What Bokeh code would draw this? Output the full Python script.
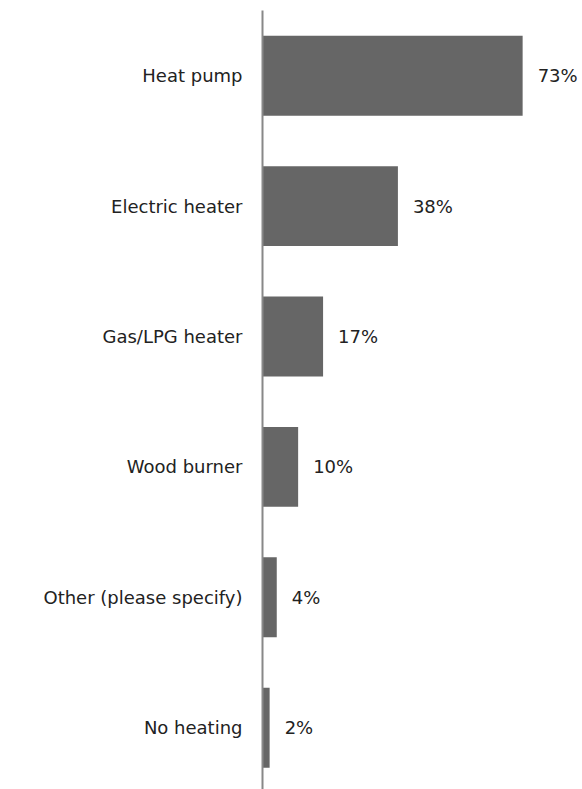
from bokeh.plotting import figure
from bokeh.models import Range1d, FixedTicker, ColumnDataSource
from bokeh.core.properties import value
from bokeh.embed import file_html
from bokeh.resources import INLINE

categories = ["Heat pump", "Electric heater", "Gas/LPG heater", "Wood burner",
              "Other (please specify)", "No heating"]
percentages = [73, 38, 17, 10, 4, 2]
value_labels = ["73%", "38%", "17%", "10%", "4%", "2%"]

positions = list(range(len(categories)))
src = ColumnDataSource(dict(y=positions, v=percentages, lab=value_labels))

FONT = "DejaVu Sans"

p = figure(width=582, height=789, output_backend="svg", toolbar_location=None,
           x_range=Range1d(0, 89.8), y_range=Range1d(5.474, -0.5),
           min_border_left=262, min_border_right=0, min_border_top=10,
           min_border_bottom=0)
p.hbar(y="y", right="v", left=0, height=0.613, source=src,
       fill_color="#666666", line_color=None)
p.text(x="v", y="y", text="lab", source=src, x_offset=15,
       text_baseline="middle", text_align="left",
       text_font=value(FONT), text_font_size="18px", text_color="#222222")

p.xaxis.visible = False
p.xgrid.visible = False
p.ygrid.visible = False
p.outline_line_color = None

ya = p.yaxis[0]
ya.ticker = FixedTicker(ticks=positions)
ya.major_label_overrides = {i: c for i, c in enumerate(categories)}
ya.major_tick_out = 0
ya.major_tick_in = 0
ya.minor_tick_out = 0
ya.minor_tick_in = 0
ya.major_label_standoff = 20
ya.major_label_text_font = FONT
ya.major_label_text_font_size = "18px"
ya.major_label_text_color = "#222222"
ya.axis_line_color = "#888888"
ya.axis_line_width = 2

open("out.html", "w").write(file_html(p, INLINE))
